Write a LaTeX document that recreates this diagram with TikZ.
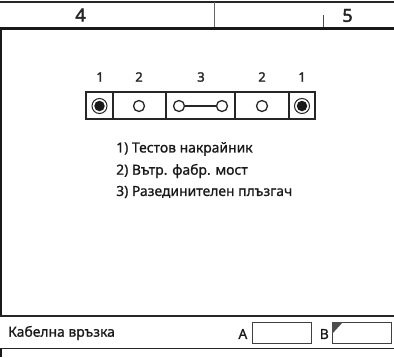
\documentclass[tikz,border=0pt]{standalone}
\usepackage{fontspec}
\setmainfont{Noto Sans}
\newfontfamily\txtf[FakeBold=0.9]{Noto Sans}
\newfontfamily\numf[FakeBold=1.8]{Noto Sans}
\newfontfamily\headf[FakeBold=2.4]{Noto Sans}
\tikzset{
  lab/.style={inner sep=0pt,font=\txtf\fontsize{13.9}{16}\selectfont,text=black!90},
  num/.style={inner sep=0pt,font=\numf\fontsize{13}{15}\selectfont,text=black!85},
  head/.style={inner sep=0pt,font=\headf\fontsize{18}{20}\selectfont,text=black!85},
  cell/.style={draw=black!85,line width=1.2pt},
  ring/.style={circle,draw=black!85,line width=1.3pt,fill=white,minimum size=11pt,inner sep=0pt},
  pin/.style={circle,draw=black!85,line width=1pt,fill=white,minimum size=15pt,inner sep=0pt},
  pincore/.style={circle,fill=black!90,minimum size=10.5pt,inner sep=0pt},
  ibox/.style={draw=black!75,line width=.8pt,fill=white}
}
\begin{document}
\begin{tikzpicture}[x=1pt,y=-1pt]
\useasboundingbox (0,0) rectangle (394,357);
% frame
\draw[black!85,line width=1.3pt] (0,2) -- (394,2);
\draw[black!60,line width=1pt] (214,2) -- (214,27);
\draw[black!70,line width=1pt] (323,15) -- (323,28);
\draw[black!90,line width=3pt] (0,28.5) -- (394,28.5);
\draw[black!90,line width=2pt] (1,28) -- (1,315);
\draw[black!90,line width=2pt] (1,349) -- (1,357);
\draw[black!85,line width=1.2pt] (0,316) -- (394,316);
\draw[black!85,line width=1.4pt] (0,348.5) -- (394,348.5);
\node[head] (h4) at (80.5,15) {4};
\node[head] (h5) at (347.5,15.5) {5};
% strip
\draw[cell] (86,92) rectangle (315,119);
\foreach \x in {113,166,235,289} \draw[cell] (\x,92) -- (\x,119);
\node[num] (n1) at (100,77) {1};
\node[num] (n2) at (139,77) {2};
\node[num] (n3) at (201,77) {3};
\node[num] (n4) at (262,77) {2};
\node[num] (n5) at (302,77) {1};
\node[pin] (p1) at (99.5,106) {};
\node[pincore] (c1) at (99.5,106) {};
\node[pin] (p2) at (302,106) {};
\node[pincore] (c2) at (302,106) {};
\node[ring] (r1) at (139,106) {};
\node[ring] (r2) at (179,106) {};
\node[ring] (r3) at (222,106) {};
\node[ring] (r4) at (262,106) {};
\draw[black!85,line width=1.2pt] (r2) -- (r3);
% legend
\node[lab,anchor=west] (t1) at (116,149) {1) Тестов накрайник};
\node[lab,anchor=west] (t2) at (116,171) {2) Вътр. фабр. мост};
\node[lab,anchor=west] (t3) at (116,192) {3) Разединителен плъзгач};
% footer
\node[lab,anchor=west] (t4) at (8,333) {Кабелна връзка};
\node[lab,anchor=east] (la) at (247.5,334) {А};
\node[lab,anchor=east] (lb) at (329,334) {В};
\draw[ibox] (252,322) rectangle (311,343);
\draw[ibox] (332,322) rectangle (391,343);
\fill[black!70] (332,322) -- (343,322) -- (332,334) -- cycle;
\end{tikzpicture}
\end{document}
